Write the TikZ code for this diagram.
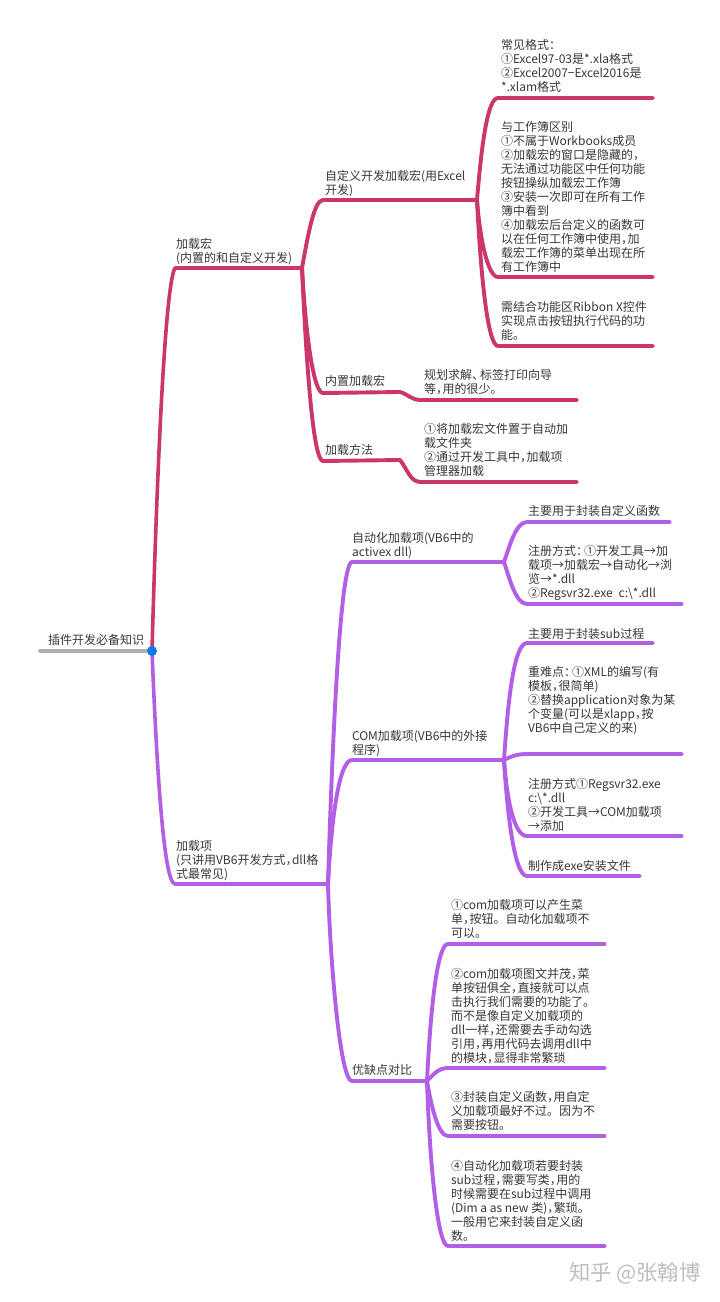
\documentclass[tikz,border=0pt]{standalone}
\usepackage{fontspec}
\setmainfont{Noto Sans CJK SC}
\definecolor{pinkb}{HTML}{CB376C}
\definecolor{purpb}{HTML}{B35FE5}
\definecolor{txt}{HTML}{383838}
\definecolor{wm}{HTML}{BDBDBD}
\definecolor{rootg}{HTML}{B0B0B0}
\definecolor{dotb}{HTML}{0E7BE8}
\catcode`，=13 \def，{\char"FF0C \kern-5.5pt\relax}
\catcode`：=13 \def：{\char"FF1A \kern-4pt\relax}
\catcode`、=13 \def、{\char"3001 \kern-4pt\relax}
\tikzset{
  lbl/.style={anchor=north west,inner sep=0pt,outer sep=0pt,font=\fontsize{12}{14}\selectfont,text=txt,align=left},
  pk/.style={draw=pinkb,line width=3.9pt,line cap=round,line join=round},
  pp/.style={draw=purpb,line width=3.9pt,line cap=round,line join=round},
}
\begin{document}
\begin{tikzpicture}[x=1pt,y=-1pt]
\useasboundingbox (0,0) rectangle (720,1302);
\fill[white] (0,0) rectangle (720,1302);
\coordinate (root) at (152,651);
\coordinate (rootl) at (40,651);
\coordinate (a) at (175,268);
\coordinate (ae) at (302,268);
\coordinate (b) at (175,884);
\coordinate (be) at (328,884);
\coordinate (a1) at (477,200);
\coordinate (b1) at (504,562);
\coordinate (b2) at (504,760);
\coordinate (b3) at (427,1081);
\draw[line width=3.6pt,draw=rootg,line cap=round] (rootl) -- (root);
% pink
\draw[pk,line width=3.6pt] (root) .. controls (157,470) and (165,285) .. (a) -- (ae);
\draw[pk] (ae) .. controls (308,235) and (314,200) .. (323,200) -- (a1);
\draw[pk] (ae) .. controls (306,340) and (314,393) .. (323,393) -- (400,392) .. controls (408,394) and (411,400) .. (421,400) -- (577,400);
\draw[pk] (ae) .. controls (307,380) and (314,461) .. (323,461) -- (400,460) .. controls (408,470) and (410,482) .. (421,482) -- (577,482);
\draw[pk] (a1) .. controls (482,140) and (488,98) .. (498,98) -- (653,98);
\draw[pk] (a1) .. controls (480,240) and (488,277) .. (498,277) -- (653,277);
\draw[pk] (a1) .. controls (481,280) and (488,346) .. (498,346) -- (653,346);
% purple
\draw[pp,line width=3.6pt] (root) .. controls (156,750) and (163,884) .. (b) -- (be);
\draw[pp] (be) .. controls (332,750) and (340,562) .. (352,562) -- (b1);
\draw[pp] (be) .. controls (332,810) and (340,760) .. (352,760) -- (b2);
\draw[pp] (be) .. controls (330,960) and (340,1081) .. (352,1081) -- (b3);
\draw[pp] (b1) .. controls (510,545) and (516,522) .. (527,522) -- (670,522);
\draw[pp] (b1) .. controls (510,580) and (516,604) .. (527,604) -- (682,604);
\draw[pp] (b2) .. controls (508,700) and (514,643) .. (527,643) -- (653,643);
\draw[pp] (b2) .. controls (510,757) and (516,754) .. (527,754) -- (682,754);
\draw[pp] (b2) .. controls (507,800) and (514,836) .. (527,836) -- (682,836);
\draw[pp] (b2) .. controls (507,810) and (514,876) .. (527,876) -- (640,876);
\draw[pp] (b3) .. controls (431,1000) and (438,944) .. (448,944) -- (605,944);
\draw[pp] (b3) .. controls (433,1075) and (438,1068) .. (448,1068) -- (605,1068);
\draw[pp] (b3) .. controls (431,1105) and (438,1136) .. (448,1136) -- (605,1136);
\draw[pp] (b3) .. controls (430,1170) and (438,1246) .. (448,1246) -- (605,1246);
\fill[dotb] (root) circle (5pt);
% labels
\node[lbl] (t0) at (48,634) {插件开发必备知识};
\node[lbl] (t1) at (176,238) {加载宏\\(内置的和自定义开发)};
\node[lbl] (t2) at (325,170) {自定义开发加载宏(用Excel\\开发)};
\node[lbl] (t3) at (501,39) {常见格式：\\①Excel97-03是*.xla格式\\②Excel2007−Excel2016是\\*.xlam格式};
\node[lbl] (t4) at (501,121) {与工作簿区别\\①不属于Workbooks成员\\②加载宏的窗口是隐藏的，\\无法通过功能区中任何功能\\按钮操纵加载宏工作簿\\③安装一次即可在所有工作\\簿中看到\\④加载宏后台定义的函数可\\以在任何工作簿中使用，加\\载宏工作簿的菜单出现在所\\有工作簿中};
\node[lbl] (t5) at (501,301) {需结合功能区Ribbon X控件\\实现点击按钮执行代码的功\\能。};
\node[lbl] (t6) at (325,375) {内置加载宏};
\node[lbl] (t7) at (424,369) {规划求解、标签打印向导\\等，用的很少。};
\node[lbl] (t8) at (325,444) {加载方法};
\node[lbl] (t9) at (424,423) {①将加载宏文件置于自动加\\载文件夹\\②通过开发工具中，加载项\\管理器加载};
\node[lbl] (t10) at (352,532) {自动化加载项(VB6中的\\activex dll)};
\node[lbl] (t11) at (528,505) {主要用于封装自定义函数};
\node[lbl] (t12) at (528,545) {注册方式：①开发工具→加\\载项→加载宏→自动化→浏\\览→*.dll\\②Regsvr32.exe\hspace{6pt}c:\textbackslash *.dll};
\node[lbl] (t13) at (528,628) {主要用于封装sub过程};
\node[lbl] (t14) at (528,666) {重难点：①XML的编写(有\\模板，很简单)\\②替换application对象为某\\个变量(可以是xlapp，按\\VB6中自己定义的来)};
\node[lbl] (t15) at (352,730) {COM加载项(VB6中的外接\\程序)};
\node[lbl] (t16) at (528,778) {注册方式①Regsvr32.exe\\c:\textbackslash *.dll\\②开发工具→COM加载项\\→添加};
\node[lbl] (t17) at (528,860) {制作成exe安装文件};
\node[lbl] (t18) at (176,840) {加载项\\(只讲用VB6开发方式，dll格\\式最常见)};
\node[lbl] (t19) at (352,1064) {优缺点对比};
\node[lbl] (t20) at (451,899) {①com加载项可以产生菜\\单，按钮。自动化加载项不\\可以。};
\node[lbl] (t21) at (451,968) {②com加载项图文并茂，菜\\单按钮俱全，直接就可以点\\击执行我们需要的功能了。\\而不是像自定义加载项的\\dll一样，还需要去手动勾选\\引用，再用代码去调用dll中\\的模块，显得非常繁琐};
\node[lbl] (t22) at (451,1091) {③封装自定义函数，用自定\\义加载项最好不过。因为不\\需要按钮。};
\node[lbl] (t23) at (451,1160) {④自动化加载项若要封装\\sub过程，需要写类，用的\\时候需要在sub过程中调用\\(Dim a as new 类)，繁琐。\\一般用它来封装自定义函\\数。};
\node[lbl,font=\fontsize{21.3}{23}\selectfont,text=wm] (wm) at (569,1262) {知乎 @张翰博};
\end{tikzpicture}
\end{document}
